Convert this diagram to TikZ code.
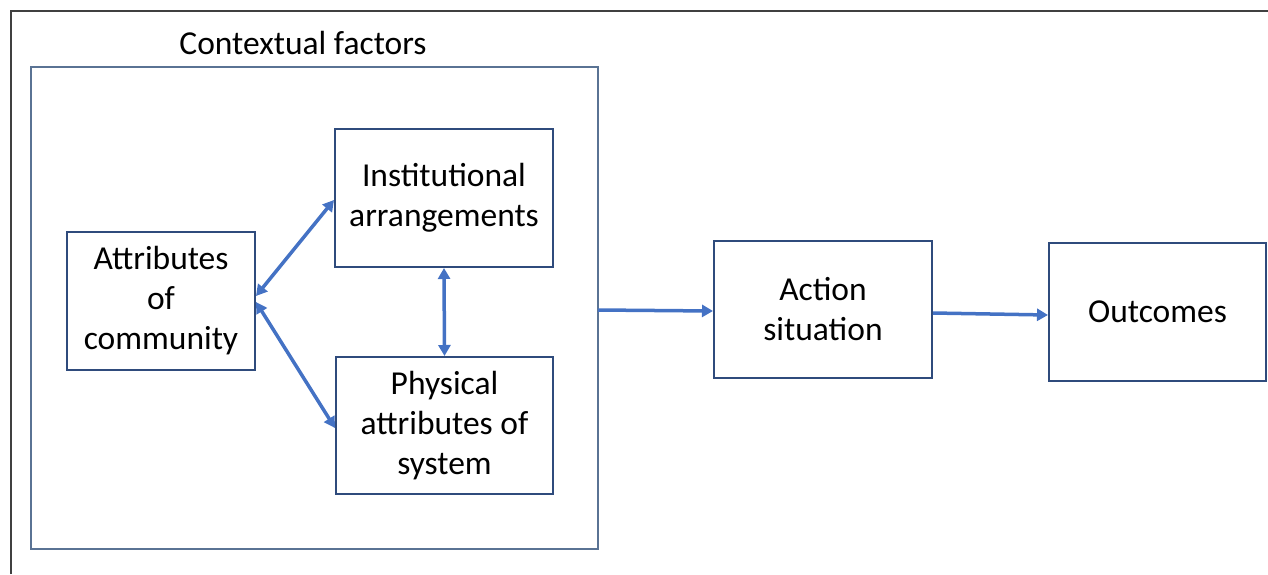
\documentclass[tikz,border=0pt]{standalone}
\usepackage{fontspec}
\setmainfont{Carlito}
\usetikzlibrary{arrows.meta}
\definecolor{boxc}{HTML}{2F4B7C}
\definecolor{outerc}{HTML}{5A7394}
\definecolor{arrc}{HTML}{4472C4}
\begin{document}
\begin{tikzpicture}[x=1pt,y=-1pt,
  fbox/.style={draw=boxc,line width=2pt,align=center,inner sep=0pt,
    font=\fontsize{33.5}{40}\selectfont},
  link/.style={draw=arrc,line width=3.5pt,{Triangle[length=11pt,width=12pt]}-{Triangle[length=11pt,width=12pt]}},
  onelink/.style={draw=arrc,line width=3.5pt,-{Triangle[length=11pt,width=12pt]}}]
\useasboundingbox (0,0) rectangle (1268,574);
% outer frame
\draw[line width=2pt,black!75] (11,574) -- (11,11) -- (1268,11);
% contextual box
\draw[draw=outerc,line width=1.5pt] (31,67) rectangle (598,549);
\node[font=\fontsize{33.5}{40}\selectfont] (ctx) at (303,43) {Contextual factors};
\node[fbox,minimum width=188pt,minimum height=138pt] (attr) at (161,301) {Attributes\\of\\community};
\node[fbox,minimum width=218pt,minimum height=138pt] (inst) at (444,198) {Institutional\\arrangements};
\node[fbox,minimum width=217pt,minimum height=137pt] (phys) at (444.5,425.5) {Physical\\attributes of\\system};
\node[fbox,minimum width=218pt,minimum height=137pt] (act) at (823,309.5) {Action\\situation};
\node[fbox,minimum width=217pt,minimum height=138pt] (out) at (1157.5,312) {Outcomes};
\coordinate (c1) at (598,310);
\draw[link] (attr.east|-0,296) -- (inst.west|-0,200);
\draw[link] (attr.east|-0,302) -- (phys.west|-0,428);
\draw[link] (inst.south) -- (phys.north);
\draw[onelink] (c1) -- (act.west|-0,311);
\draw[onelink] (act.east|-0,313) -- (out.west|-0,315);
\end{tikzpicture}
\end{document}
